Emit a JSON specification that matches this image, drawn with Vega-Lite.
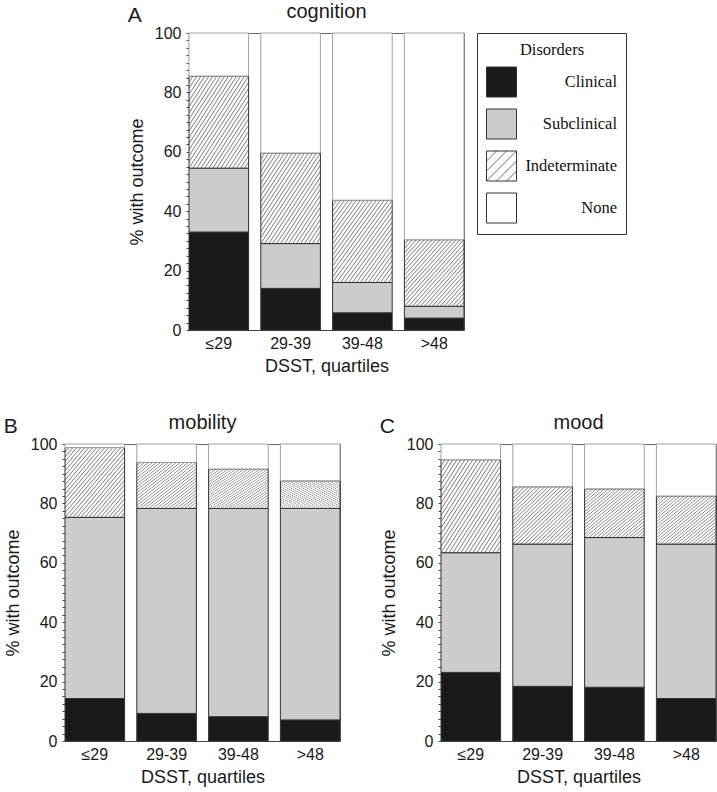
{
  "$schema": "https://vega.github.io/schema/vega-lite/v6.json",
  "padding": {"left": 3, "top": 1, "right": 0, "bottom": 0},
  "params": [
    {"name": "hatch", "value": {"gradient": "linear", "x1": 0, "y1": 0, "x2": 1, "y2": 1, "stops": [
      {"offset": 0, "color": "#8c8c8c"}, {"offset": 0.01, "color": "#ffffff"}, {"offset": 0.0233, "color": "#ffffff"},
      {"offset": 0.0333, "color": "#8c8c8c"}, {"offset": 0.0433, "color": "#ffffff"}, {"offset": 0.0567, "color": "#ffffff"},
      {"offset": 0.0667, "color": "#8c8c8c"}, {"offset": 0.0767, "color": "#ffffff"}, {"offset": 0.09, "color": "#ffffff"},
      {"offset": 0.1, "color": "#8c8c8c"}, {"offset": 0.11, "color": "#ffffff"}, {"offset": 0.1233, "color": "#ffffff"},
      {"offset": 0.1333, "color": "#8c8c8c"}, {"offset": 0.1433, "color": "#ffffff"}, {"offset": 0.1567, "color": "#ffffff"},
      {"offset": 0.1667, "color": "#8c8c8c"}, {"offset": 0.1767, "color": "#ffffff"}, {"offset": 0.19, "color": "#ffffff"},
      {"offset": 0.2, "color": "#8c8c8c"}, {"offset": 0.21, "color": "#ffffff"}, {"offset": 0.2233, "color": "#ffffff"},
      {"offset": 0.2333, "color": "#8c8c8c"}, {"offset": 0.2433, "color": "#ffffff"}, {"offset": 0.2567, "color": "#ffffff"},
      {"offset": 0.2667, "color": "#8c8c8c"}, {"offset": 0.2767, "color": "#ffffff"}, {"offset": 0.29, "color": "#ffffff"},
      {"offset": 0.3, "color": "#8c8c8c"}, {"offset": 0.31, "color": "#ffffff"}, {"offset": 0.3233, "color": "#ffffff"},
      {"offset": 0.3333, "color": "#8c8c8c"}, {"offset": 0.3433, "color": "#ffffff"}, {"offset": 0.3567, "color": "#ffffff"},
      {"offset": 0.3667, "color": "#8c8c8c"}, {"offset": 0.3767, "color": "#ffffff"}, {"offset": 0.39, "color": "#ffffff"},
      {"offset": 0.4, "color": "#8c8c8c"}, {"offset": 0.41, "color": "#ffffff"}, {"offset": 0.4233, "color": "#ffffff"},
      {"offset": 0.4333, "color": "#8c8c8c"}, {"offset": 0.4433, "color": "#ffffff"}, {"offset": 0.4567, "color": "#ffffff"},
      {"offset": 0.4667, "color": "#8c8c8c"}, {"offset": 0.4767, "color": "#ffffff"}, {"offset": 0.49, "color": "#ffffff"},
      {"offset": 0.5, "color": "#8c8c8c"}, {"offset": 0.51, "color": "#ffffff"}, {"offset": 0.5233, "color": "#ffffff"},
      {"offset": 0.5333, "color": "#8c8c8c"}, {"offset": 0.5433, "color": "#ffffff"}, {"offset": 0.5567, "color": "#ffffff"},
      {"offset": 0.5667, "color": "#8c8c8c"}, {"offset": 0.5767, "color": "#ffffff"}, {"offset": 0.59, "color": "#ffffff"},
      {"offset": 0.6, "color": "#8c8c8c"}, {"offset": 0.61, "color": "#ffffff"}, {"offset": 0.6233, "color": "#ffffff"},
      {"offset": 0.6333, "color": "#8c8c8c"}, {"offset": 0.6433, "color": "#ffffff"}, {"offset": 0.6567, "color": "#ffffff"},
      {"offset": 0.6667, "color": "#8c8c8c"}, {"offset": 0.6767, "color": "#ffffff"}, {"offset": 0.69, "color": "#ffffff"},
      {"offset": 0.7, "color": "#8c8c8c"}, {"offset": 0.71, "color": "#ffffff"}, {"offset": 0.7233, "color": "#ffffff"},
      {"offset": 0.7333, "color": "#8c8c8c"}, {"offset": 0.7433, "color": "#ffffff"}, {"offset": 0.7567, "color": "#ffffff"},
      {"offset": 0.7667, "color": "#8c8c8c"}, {"offset": 0.7767, "color": "#ffffff"}, {"offset": 0.79, "color": "#ffffff"},
      {"offset": 0.8, "color": "#8c8c8c"}, {"offset": 0.81, "color": "#ffffff"}, {"offset": 0.8233, "color": "#ffffff"},
      {"offset": 0.8333, "color": "#8c8c8c"}, {"offset": 0.8433, "color": "#ffffff"}, {"offset": 0.8567, "color": "#ffffff"},
      {"offset": 0.8667, "color": "#8c8c8c"}, {"offset": 0.8767, "color": "#ffffff"}, {"offset": 0.89, "color": "#ffffff"},
      {"offset": 0.9, "color": "#8c8c8c"}, {"offset": 0.91, "color": "#ffffff"}, {"offset": 0.9233, "color": "#ffffff"},
      {"offset": 0.9333, "color": "#8c8c8c"}, {"offset": 0.9433, "color": "#ffffff"}, {"offset": 0.9567, "color": "#ffffff"},
      {"offset": 0.9667, "color": "#8c8c8c"}, {"offset": 0.9767, "color": "#ffffff"}, {"offset": 0.99, "color": "#ffffff"},
      {"offset": 1, "color": "#8c8c8c"}
    ]}},
    {"name": "hatchL", "value": {"gradient": "linear", "x1": 0, "y1": 0, "x2": 1, "y2": 1, "stops": [
      {"offset": 0, "color": "#8c8c8c"}, {"offset": 0.025, "color": "#ffffff"}, {"offset": 0.1417, "color": "#ffffff"},
      {"offset": 0.1667, "color": "#8c8c8c"}, {"offset": 0.1917, "color": "#ffffff"}, {"offset": 0.3083, "color": "#ffffff"},
      {"offset": 0.3333, "color": "#8c8c8c"}, {"offset": 0.3583, "color": "#ffffff"}, {"offset": 0.475, "color": "#ffffff"},
      {"offset": 0.5, "color": "#8c8c8c"}, {"offset": 0.525, "color": "#ffffff"}, {"offset": 0.6417, "color": "#ffffff"},
      {"offset": 0.6667, "color": "#8c8c8c"}, {"offset": 0.6917, "color": "#ffffff"}, {"offset": 0.8083, "color": "#ffffff"},
      {"offset": 0.8333, "color": "#8c8c8c"}, {"offset": 0.8583, "color": "#ffffff"}, {"offset": 0.975, "color": "#ffffff"},
      {"offset": 1, "color": "#8c8c8c"}
    ]}}
  ],
  "data": {"values": [
    {"outcome": "cognition", "q": "≤29", "cat": "Clinical", "rank": 1, "pct": 33.0},
    {"outcome": "cognition", "q": "≤29", "cat": "Subclinical", "rank": 2, "pct": 21.5},
    {"outcome": "cognition", "q": "≤29", "cat": "Indeterminate", "rank": 3, "pct": 31.0},
    {"outcome": "cognition", "q": "≤29", "cat": "None", "rank": 4, "pct": 14.5},
    {"outcome": "cognition", "q": "29-39", "cat": "Clinical", "rank": 1, "pct": 14.0},
    {"outcome": "cognition", "q": "29-39", "cat": "Subclinical", "rank": 2, "pct": 15.1},
    {"outcome": "cognition", "q": "29-39", "cat": "Indeterminate", "rank": 3, "pct": 30.5},
    {"outcome": "cognition", "q": "29-39", "cat": "None", "rank": 4, "pct": 40.4},
    {"outcome": "cognition", "q": "39-48", "cat": "Clinical", "rank": 1, "pct": 5.8},
    {"outcome": "cognition", "q": "39-48", "cat": "Subclinical", "rank": 2, "pct": 10.2},
    {"outcome": "cognition", "q": "39-48", "cat": "Indeterminate", "rank": 3, "pct": 27.7},
    {"outcome": "cognition", "q": "39-48", "cat": "None", "rank": 4, "pct": 56.3},
    {"outcome": "cognition", "q": ">48", "cat": "Clinical", "rank": 1, "pct": 4.0},
    {"outcome": "cognition", "q": ">48", "cat": "Subclinical", "rank": 2, "pct": 4.0},
    {"outcome": "cognition", "q": ">48", "cat": "Indeterminate", "rank": 3, "pct": 22.4},
    {"outcome": "cognition", "q": ">48", "cat": "None", "rank": 4, "pct": 69.6},
    {"outcome": "mobility", "q": "≤29", "cat": "Clinical", "rank": 1, "pct": 14.3},
    {"outcome": "mobility", "q": "≤29", "cat": "Subclinical", "rank": 2, "pct": 61.0},
    {"outcome": "mobility", "q": "≤29", "cat": "Indeterminate", "rank": 3, "pct": 23.5},
    {"outcome": "mobility", "q": "≤29", "cat": "None", "rank": 4, "pct": 1.2},
    {"outcome": "mobility", "q": "29-39", "cat": "Clinical", "rank": 1, "pct": 9.3},
    {"outcome": "mobility", "q": "29-39", "cat": "Subclinical", "rank": 2, "pct": 69.0},
    {"outcome": "mobility", "q": "29-39", "cat": "Indeterminate", "rank": 3, "pct": 15.5},
    {"outcome": "mobility", "q": "29-39", "cat": "None", "rank": 4, "pct": 6.2},
    {"outcome": "mobility", "q": "39-48", "cat": "Clinical", "rank": 1, "pct": 8.2},
    {"outcome": "mobility", "q": "39-48", "cat": "Subclinical", "rank": 2, "pct": 70.1},
    {"outcome": "mobility", "q": "39-48", "cat": "Indeterminate", "rank": 3, "pct": 13.3},
    {"outcome": "mobility", "q": "39-48", "cat": "None", "rank": 4, "pct": 8.4},
    {"outcome": "mobility", "q": ">48", "cat": "Clinical", "rank": 1, "pct": 7.1},
    {"outcome": "mobility", "q": ">48", "cat": "Subclinical", "rank": 2, "pct": 71.2},
    {"outcome": "mobility", "q": ">48", "cat": "Indeterminate", "rank": 3, "pct": 9.3},
    {"outcome": "mobility", "q": ">48", "cat": "None", "rank": 4, "pct": 12.4},
    {"outcome": "mood", "q": "≤29", "cat": "Clinical", "rank": 1, "pct": 23.1},
    {"outcome": "mood", "q": "≤29", "cat": "Subclinical", "rank": 2, "pct": 40.3},
    {"outcome": "mood", "q": "≤29", "cat": "Indeterminate", "rank": 3, "pct": 31.3},
    {"outcome": "mood", "q": "≤29", "cat": "None", "rank": 4, "pct": 5.3},
    {"outcome": "mood", "q": "29-39", "cat": "Clinical", "rank": 1, "pct": 18.4},
    {"outcome": "mood", "q": "29-39", "cat": "Subclinical", "rank": 2, "pct": 47.9},
    {"outcome": "mood", "q": "29-39", "cat": "Indeterminate", "rank": 3, "pct": 19.3},
    {"outcome": "mood", "q": "29-39", "cat": "None", "rank": 4, "pct": 14.4},
    {"outcome": "mood", "q": "39-48", "cat": "Clinical", "rank": 1, "pct": 18.1},
    {"outcome": "mood", "q": "39-48", "cat": "Subclinical", "rank": 2, "pct": 50.4},
    {"outcome": "mood", "q": "39-48", "cat": "Indeterminate", "rank": 3, "pct": 16.4},
    {"outcome": "mood", "q": "39-48", "cat": "None", "rank": 4, "pct": 15.1},
    {"outcome": "mood", "q": ">48", "cat": "Clinical", "rank": 1, "pct": 14.3},
    {"outcome": "mood", "q": ">48", "cat": "Subclinical", "rank": 2, "pct": 52.0},
    {"outcome": "mood", "q": ">48", "cat": "Indeterminate", "rank": 3, "pct": 16.2},
    {"outcome": "mood", "q": ">48", "cat": "None", "rank": 4, "pct": 17.5}
  ]},
  "resolve": {"legend": {"fill": "independent"}},
  "spacing": 36,
  "vconcat": [
    {
      "spacing": 0,
      "resolve": {"legend": {"fill": "independent"}},
      "hconcat": [
        {"width": 62, "height": 297, "data": {"values": []}, "mark": "point", "view": {"stroke": null}},
        {
          "title": {"text": "A", "anchor": "start", "frame": "bounds", "offset": -24, "fontSize": 21},
          "resolve": {"legend": {"fill": "independent"}},
          "hconcat": [{
            "width": 275, "height": 297,
            "title": {"text": "cognition", "offset": 3},
            "transform": [{"filter": "datum.outcome === 'cognition'"}],
            "mark": {"type": "bar", "strokeWidth": 1},
            "encoding": {
              "x": {"field": "q", "type": "nominal", "sort": ["≤29", "29-39", "39-48", ">48"], "scale": {"paddingInner": 0.17, "paddingOuter": 0}, "axis": {"title": "DSST, quartiles", "labelAngle": 0, "ticks": false, "tickSize": 0, "labelPadding": 5, "titlePadding": 6}},
              "y": {"field": "pct", "type": "quantitative", "stack": "zero", "scale": {"domain": [0, 100], "nice": false}, "axis": {"title": "% with outcome", "values": [0, 2.5, 5, 7.5, 10, 12.5, 15, 17.5, 20, 22.5, 25, 27.5, 30, 32.5, 35, 37.5, 40, 42.5, 45, 47.5, 50, 52.5, 55, 57.5, 60, 62.5, 65, 67.5, 70, 72.5, 75, 77.5, 80, 82.5, 85, 87.5, 90, 92.5, 95, 97.5, 100], "labelExpr": "datum.value % 20 === 0 ? datum.label : ''", "labelOverlap": false, "tickSize": 3, "labelPadding": 5, "titlePadding": 8}},
              "order": {"field": "rank", "type": "quantitative"},
              "fill": {
                "field": "cat", "type": "nominal",
                "scale": {"domain": ["Clinical", "Subclinical", "Indeterminate", "None"], "range": ["#1a1a1a", "#cccccc", {"expr": "hatchL"}, "#ffffff"]},
                "condition": {"test": "datum.cat === 'Indeterminate'", "value": {"expr": "hatch"}},
                "legend": {
                  "title": "Disorders", "orient": "right", "offset": 13,
                  "symbolType": "square", "symbolSize": 900, "symbolStrokeWidth": 1, "symbolStrokeColor": "#333333",
                  "labelFont": "Liberation Serif", "labelFontSize": 16.5, "labelAlign": "right", "labelOffset": 100, "labelColor": "#111",
                  "titleFont": "Liberation Serif", "titleFontSize": 16.5, "titleFontWeight": "normal", "titleAnchor": "middle", "titleColor": "#111", "titlePadding": 8,
                  "rowPadding": 7, "padding": 9, "strokeColor": "#333"
                }
              },
              "stroke": {"condition": {"test": "datum.cat === 'None'", "value": "#a0a0a0"}, "value": "#333333"}
            }
          }]
        }
      ]
    },
    {
      "spacing": 38,
      "hconcat": [
        {
          "title": {"text": "B", "anchor": "start", "frame": "bounds", "offset": -24, "fontSize": 21},
          "hconcat": [{
            "width": 275, "height": 297,
            "title": {"text": "mobility", "offset": 3},
            "transform": [{"filter": "datum.outcome === 'mobility'"}],
            "mark": {"type": "bar", "strokeWidth": 1},
            "encoding": {
              "x": {"field": "q", "type": "nominal", "sort": ["≤29", "29-39", "39-48", ">48"], "scale": {"paddingInner": 0.17, "paddingOuter": 0}, "axis": {"title": "DSST, quartiles", "labelAngle": 0, "ticks": false, "tickSize": 0, "labelPadding": 5, "titlePadding": 6}},
              "y": {"field": "pct", "type": "quantitative", "stack": "zero", "scale": {"domain": [0, 100], "nice": false}, "axis": {"title": "% with outcome", "values": [0, 2.5, 5, 7.5, 10, 12.5, 15, 17.5, 20, 22.5, 25, 27.5, 30, 32.5, 35, 37.5, 40, 42.5, 45, 47.5, 50, 52.5, 55, 57.5, 60, 62.5, 65, 67.5, 70, 72.5, 75, 77.5, 80, 82.5, 85, 87.5, 90, 92.5, 95, 97.5, 100], "labelExpr": "datum.value % 20 === 0 ? datum.label : ''", "labelOverlap": false, "tickSize": 3, "labelPadding": 5, "titlePadding": 8}},
              "order": {"field": "rank", "type": "quantitative"},
              "fill": {
                "field": "cat", "type": "nominal",
                "scale": {"domain": ["Clinical", "Subclinical", "Indeterminate", "None"], "range": ["#1a1a1a", "#cccccc", {"expr": "hatchL"}, "#ffffff"]},
                "condition": {"test": "datum.cat === 'Indeterminate'", "value": {"expr": "hatch"}},
                "legend": null
              },
              "stroke": {"condition": {"test": "datum.cat === 'None'", "value": "#a0a0a0"}, "value": "#333333"}
            }
          }]
        },
        {
          "title": {"text": "C", "anchor": "start", "frame": "bounds", "offset": -24, "fontSize": 21},
          "hconcat": [{
            "width": 275, "height": 297,
            "title": {"text": "mood", "offset": 3},
            "transform": [{"filter": "datum.outcome === 'mood'"}],
            "mark": {"type": "bar", "strokeWidth": 1},
            "encoding": {
              "x": {"field": "q", "type": "nominal", "sort": ["≤29", "29-39", "39-48", ">48"], "scale": {"paddingInner": 0.17, "paddingOuter": 0}, "axis": {"title": "DSST, quartiles", "labelAngle": 0, "ticks": false, "tickSize": 0, "labelPadding": 5, "titlePadding": 6}},
              "y": {"field": "pct", "type": "quantitative", "stack": "zero", "scale": {"domain": [0, 100], "nice": false}, "axis": {"title": "% with outcome", "values": [0, 2.5, 5, 7.5, 10, 12.5, 15, 17.5, 20, 22.5, 25, 27.5, 30, 32.5, 35, 37.5, 40, 42.5, 45, 47.5, 50, 52.5, 55, 57.5, 60, 62.5, 65, 67.5, 70, 72.5, 75, 77.5, 80, 82.5, 85, 87.5, 90, 92.5, 95, 97.5, 100], "labelExpr": "datum.value % 20 === 0 ? datum.label : ''", "labelOverlap": false, "tickSize": 3, "labelPadding": 5, "titlePadding": 8}},
              "order": {"field": "rank", "type": "quantitative"},
              "fill": {
                "field": "cat", "type": "nominal",
                "scale": {"domain": ["Clinical", "Subclinical", "Indeterminate", "None"], "range": ["#1a1a1a", "#cccccc", {"expr": "hatchL"}, "#ffffff"]},
                "condition": {"test": "datum.cat === 'Indeterminate'", "value": {"expr": "hatch"}},
                "legend": null
              },
              "stroke": {"condition": {"test": "datum.cat === 'None'", "value": "#a0a0a0"}, "value": "#333333"}
            }
          }]
        }
      ]
    }
  ],
  "config": {
    "font": "Liberation Sans",
    "view": {"stroke": "#666666"},
    "title": {"fontSize": 20, "fontWeight": "normal", "color": "#1a1a1a"},
    "axis": {"labelFontSize": 16, "titleFontSize": 18, "titleFontWeight": "normal", "labelColor": "#1a1a1a", "titleColor": "#1a1a1a", "domainColor": "#444444", "tickColor": "#444444", "grid": false}
  }
}
